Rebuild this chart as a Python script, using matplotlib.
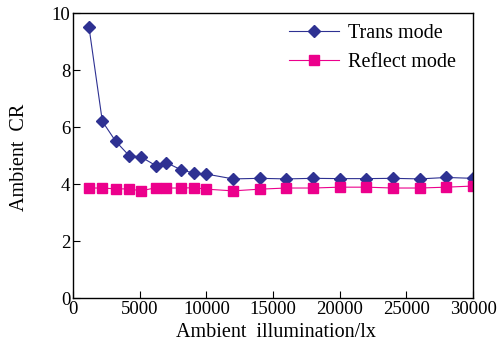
import matplotlib
matplotlib.use("Agg")
import matplotlib.pyplot as plt

plt.rcParams["font.family"] = "Liberation Serif"

# data
lux = [1200, 2200, 3200, 4200, 5100, 6200, 7000, 8100, 9100, 10000,
       12000, 14000, 16000, 18000, 20000, 22000, 24000, 26000, 28000, 30000]
trans_cr = [9.5, 6.2, 5.5, 5.0, 4.95, 4.65, 4.75, 4.5, 4.38, 4.35,
            4.18, 4.2, 4.18, 4.2, 4.19, 4.19, 4.2, 4.18, 4.23, 4.2]
reflect_cr = [3.86, 3.86, 3.83, 3.83, 3.76, 3.87, 3.86, 3.86, 3.87, 3.82,
              3.76, 3.82, 3.86, 3.86, 3.89, 3.89, 3.86, 3.86, 3.89, 3.93]

navy = "#2e3192"
magenta = "#ec008c"

fig = plt.figure(figsize=(4.98, 3.44), dpi=100)
ax = fig.add_axes([0.1466, 0.1337, 0.8034, 0.8283])

ax.plot(lux, trans_cr, color=navy, lw=0.8, marker="D", ms=6,
        mfc=navy, mec=navy, label="Trans mode")
ax.plot(lux, reflect_cr, color=magenta, lw=0.8, marker="s", ms=7,
        mfc=magenta, mec=magenta, label="Reflect mode")

ax.set_xlim(0, 30000)
ax.set_ylim(0, 10)
ax.set_xticks(range(0, 30001, 5000))
ax.set_yticks(range(0, 11, 2))
ax.tick_params(direction="in", length=5, width=0.8, labelsize=13.5, pad=2)
for s in ax.spines.values():
    s.set_linewidth(1.0)

ax.set_xlabel("Ambient  illumination/lx", fontsize=14.5)
ax.xaxis.set_label_coords(0.507, -0.088)
ax.set_ylabel("Ambient  CR", fontsize=14.5)
ax.yaxis.set_label_coords(-0.11, 0.495)

ax.legend(loc="upper left", bbox_to_anchor=(0.54, 0.962), frameon=False,
          fontsize=14.5, handlelength=2.5, handletextpad=0.45,
          labelspacing=0.48, borderpad=0, borderaxespad=0)

fig.savefig("out.png", dpi=100)
